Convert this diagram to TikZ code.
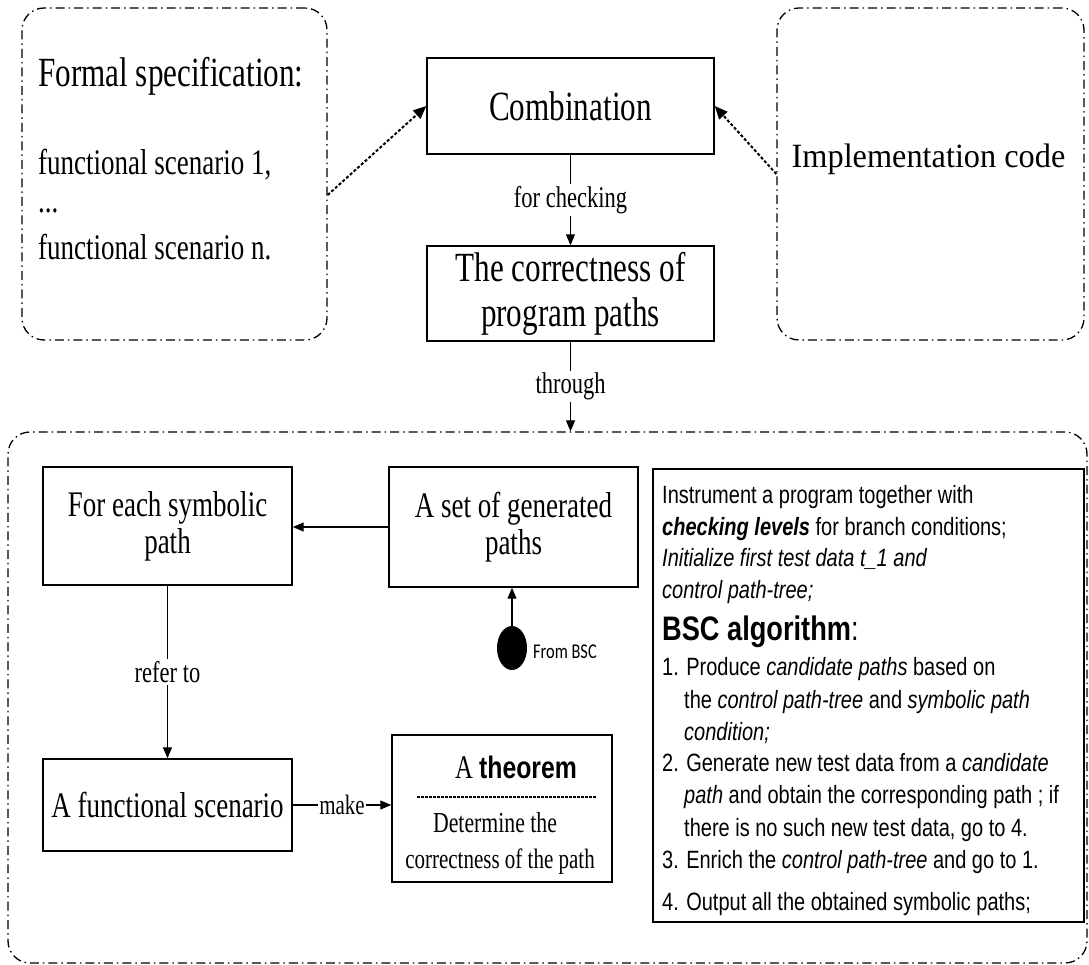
\documentclass[tikz,border=0pt]{standalone}
\usepackage{fontspec}
\setmainfont{Liberation Serif}[FakeStretch=0.75]
\newfontfamily\serwide{Liberation Serif}[FakeStretch=0.95]
\newfontfamily\sanscond{Liberation Sans}[FakeStretch=0.8]
\newfontfamily\tagfont{Carlito}[FakeStretch=0.78]
\usetikzlibrary{arrows.meta,shapes.geometric}

\tikzset{
  box/.style={draw, line width=1.4pt, inner sep=0pt, align=center},
  group/.style={draw, line width=1.3pt, rounded corners=22pt,
    dash pattern=on 9pt off 4pt on 1.5pt off 4pt},
  flow/.style={-{Triangle[length=11pt,width=9pt]}, line width=1.2pt},
  feed/.style={-{Triangle[length=13pt,width=11pt]}, line width=2pt,
    dash pattern=on 3pt off 2pt},
  edgelabel/.style={fill=white, inner sep=2pt, font=\fontsize{30}{32}\selectfont},
  plain/.style={anchor=base west, inner sep=0pt},
  bsc/.style={anchor=base west, inner sep=0pt, font=\sanscond\fontsize{25}{30}\selectfont},
  sepline/.style={line width=1.5pt, dash pattern=on 2.5pt off 1.5pt},
}

\begin{document}
\begin{tikzpicture}[x=1pt,y=-1pt]
\useasboundingbox (0,0) rectangle (1089,965);

% --- specification group (top left)
\node[group, minimum width=305pt, minimum height=332pt] (spec) at (174.5,174) {};
\node[plain, font=\fontsize{41.5}{45}\selectfont] (spectitle) at (38,87) {Formal specification:};
\node[plain, font=\fontsize{36}{40}\selectfont] (scenA) at (38,175) {functional scenario 1,};
\node[plain, font=\fontsize{36}{40}\selectfont] (scenDots) at (38,213) {...};
\node[plain, font=\fontsize{36}{40}\selectfont] (scenN) at (38,260) {functional scenario n.};

% --- implementation group (top right)
\node[group, minimum width=307pt, minimum height=332pt] (impl) at (930.5,174) {};
\node[anchor=base, inner sep=0pt, font=\serwide\fontsize{34}{36}\selectfont] (impltext) at (928.5,168) {Implementation code};

% --- combination and correctness
\node[box, minimum width=287pt, minimum height=96pt, font=\fontsize{41.5}{45}\selectfont] (comb) at (570.5,106) {Combination};
\node[box, minimum width=287pt, minimum height=95pt, font=\fontsize{41.5}{45}\selectfont] (corr) at (570.5,293.5) {The correctness of\\program paths};

\draw[feed] ([yshift=-21pt]spec.east) -- (comb.west);
\draw[feed] (impl.west) -- (comb.east);
\draw[flow] (comb.south) -- node[edgelabel] {for checking} (corr.north);

% --- lower group
\node[group, minimum width=1079pt, minimum height=531pt] (core) at (547.5,697.5) {};
\draw[flow] (corr.south) -- node[edgelabel] {through} (corr.south |- core.north);

\node[box, minimum width=249pt, minimum height=118pt, font=\fontsize{36}{37}\selectfont] (sym) at (167.5,526) {For each symbolic\\path};
\node[box, minimum width=249pt, minimum height=120pt, font=\fontsize{36}{37}\selectfont] (gen) at (513.5,527) {A set of generated\\paths};
\draw[flow] (gen.west) -- (gen.west -| sym.east);

\node[ellipse, fill=black, minimum width=30pt, minimum height=44pt, inner sep=0pt] (src) at (512,648) {};
\node[anchor=west, inner sep=0pt, font=\tagfont\fontsize{21}{24}\selectfont] (srclabel) at (533,652) {From BSC};
\draw[flow] (src.north) -- (src.north |- gen.south);

\node[box, minimum width=249pt, minimum height=92pt, font=\fontsize{36}{40}\selectfont] (fs) at (167.5,805) {A functional scenario};
\draw[flow] (sym.south) -- node[edgelabel] {refer to} (fs.north);

\node[box, minimum width=220pt, minimum height=147pt] (thm) at (502,808.5) {};
\draw[flow] (fs.east) -- node[edgelabel, inner sep=1pt, font=\fontsize{28}{30}\selectfont] {make} (fs.east -| thm.west);
\node[anchor=base, inner sep=0pt, font=\fontsize{33}{34}\selectfont] (thmtitle) at (516,778) {A {\sanscond\bfseries\fontsize{31}{34}\selectfont theorem}};
\coordinate (sepL) at (417,797);
\coordinate (sepR) at (597,797);
\draw[sepline] (sepL) -- (sepR);
\node[anchor=base, inner sep=0pt, font=\fontsize{29}{30}\selectfont] (detA) at (495,832) {Determine the};
\node[anchor=base, inner sep=0pt, font=\fontsize{28}{30}\selectfont] (detB) at (500,868) {correctness of the path};

% --- BSC algorithm panel
\node[box, minimum width=431pt, minimum height=453pt] (bsc) at (868.5,695.5) {};
\node[bsc] (bA) at (662,503) {Instrument a program together with};
\node[bsc] (bB) at (662,535) {\textbf{\textit{checking levels}} for branch conditions;};
\node[bsc] (bC) at (662,566) {\textit{Initialize first test data t\_1 and}};
\node[bsc] (bD) at (662,598) {\textit{control path-tree;}};
\node[bsc, font=\sanscond\fontsize{34}{36}\selectfont] (bE) at (662,640) {\textbf{BSC algorithm}:};
\node[bsc] (bF) at (662,675) {1. Produce \textit{candidate paths} based on};
\node[bsc] (bG) at (684,708) {the \textit{control path-tree} and \textit{symbolic path}};
\node[bsc] (bH) at (684,740) {\textit{condition;}};
\node[bsc] (bI) at (662,771) {2. Generate new test data from a \textit{candidate}};
\node[bsc] (bJ) at (684,803) {\textit{path} and obtain the corresponding path ; if};
\node[bsc] (bK) at (684,836) {there is no such new test data, go to 4.};
\node[bsc] (bL) at (662,868) {3. Enrich the \textit{control path-tree} and go to 1.};
\node[bsc] (bM) at (662,910) {4. Output all the obtained symbolic paths;};
\end{tikzpicture}
\end{document}
